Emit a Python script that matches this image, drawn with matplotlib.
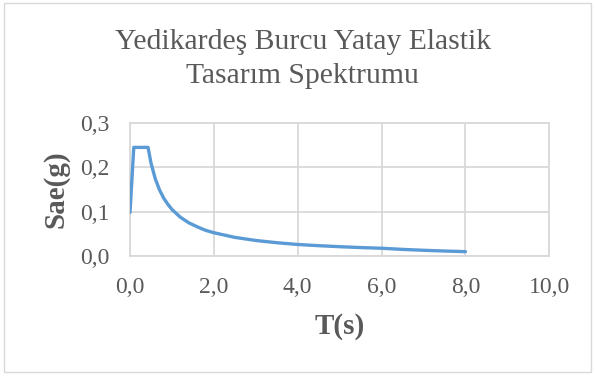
import matplotlib
matplotlib.use("Agg")
import matplotlib.pyplot as plt
from matplotlib.patches import Rectangle
from matplotlib.ticker import MultipleLocator, FuncFormatter

# Elastic design spectrum values
period = [0.0, 0.09, 0.43, 0.5, 0.6, 0.7, 0.8, 0.9, 1.0, 1.2, 1.4, 1.6, 1.8,
          2.0, 2.5, 3.0, 3.5, 4.0, 4.5, 5.0, 5.5, 6.0, 6.5, 7.0, 7.5, 8.0]
sae = [0.098, 0.245, 0.245, 0.210, 0.175, 0.150, 0.131, 0.117, 0.105, 0.0875,
       0.075, 0.066, 0.058, 0.0525, 0.042, 0.035, 0.030, 0.026, 0.0233, 0.021,
       0.019, 0.0175, 0.0149, 0.0129, 0.0112, 0.0098]

title_lines = ["Yedikardeş Burcu Yatay Elastik", "Tasarım Spektrumu"]
xlabel = "T(s)"
ylabel = "Sae(g)"

plt.rcParams['font.family'] = ['Liberation Serif', 'DejaVu Serif']
grey_text = "#595959"
grid_col = "#d9d9d9"

fig = plt.figure(figsize=(5.95, 3.76), dpi=100)
fig.patches.append(Rectangle((4 / 595, 1 - 372 / 376), 587 / 595, 369 / 376,
                             transform=fig.transFigure, fill=False,
                             edgecolor=grid_col, linewidth=1.0))

ax = fig.add_axes([130 / 595, 1 - 256 / 376, 419.3 / 595, 133 / 376])
ax.plot(period, sae, color="#5b9bd5", linewidth=2.4, solid_capstyle="round",
        solid_joinstyle="round", zorder=3)

ax.set_xlim(0, 10)
ax.set_ylim(0, 0.3)
ax.xaxis.set_major_locator(MultipleLocator(2))
ax.yaxis.set_major_locator(MultipleLocator(0.1))
fmt = FuncFormatter(lambda v, p: f"{v:.1f}".replace(".", ","))
ax.xaxis.set_major_formatter(fmt)
ax.yaxis.set_major_formatter(fmt)

ax.grid(True, color=grid_col, linewidth=1.3)
ax.set_axisbelow(True)
for s in ax.spines.values():
    s.set_color(grid_col)
    s.set_linewidth(1.3)
ax.tick_params(length=0, labelsize=17, colors=grey_text, pad=15)

ax.set_xlabel(xlabel, fontsize=21, fontweight="bold", color=grey_text, labelpad=11)
ax.set_ylabel(ylabel, fontsize=21, fontweight="bold", color=grey_text, labelpad=7)

# title, one baseline per line
fig.text(0.510, 1 - 49 / 376, title_lines[0], ha="center", va="baseline",
         fontsize=21.3, color=grey_text)
fig.text(0.509, 1 - 83 / 376, title_lines[1], ha="center", va="baseline",
         fontsize=21.3, color=grey_text)

fig.savefig("out.png", dpi=100, facecolor="white")
